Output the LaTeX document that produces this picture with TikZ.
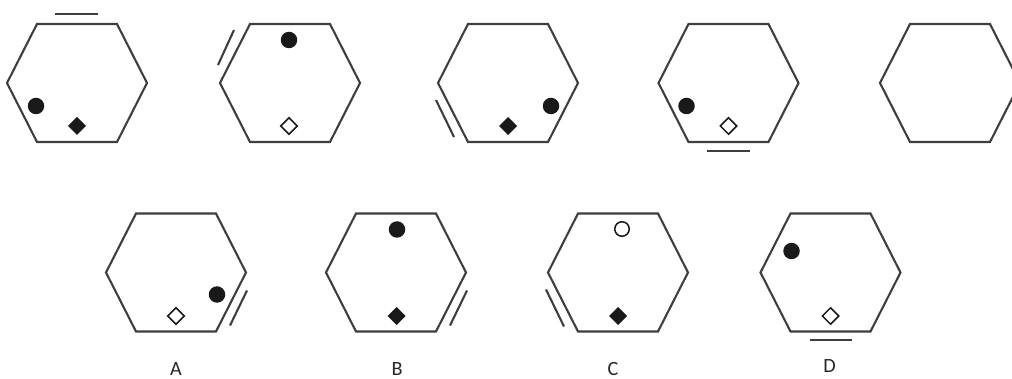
\documentclass[tikz,border=0pt]{standalone}
\usepackage{fontspec}
\setmainfont{Carlito}
\usepackage{tikz}
\usetikzlibrary{calc}
\definecolor{edgegray}{RGB}{62,62,62}
\definecolor{markblack}{RGB}{25,25,25}
\tikzset{
  hexline/.style={draw=edgegray, line width=0.42mm, line join=miter},
  sideline/.style={draw=edgegray, line width=0.42mm},
  filledmark/.style={fill=markblack},
  openmark/.style={draw=markblack, line width=0.3mm, fill=white},
  optlbl/.style={font=\fontsize{11.5}{13}\selectfont, text=black!85, inner sep=0pt},
}
% small square turned by 45 degrees
\newcommand{\diamondat}[3]{\path[#2] ($(#1)+(0,-#3)$) -- ($(#1)+(#3,0)$) -- ($(#1)+(0,#3)$) -- ($(#1)+(-#3,0)$) -- cycle;}

\begin{document}
\begin{tikzpicture}[x=0.2mm, y=-0.2mm]
  \useasboundingbox (0,0) rectangle (1012,379);
  % cell centres
  \coordinate (h1) at (77,83);
  \coordinate (h2) at (290,83);
  \coordinate (h3) at (508,83);
  \coordinate (h4) at (728.5,83);
  \coordinate (h5) at (950,83);
  \coordinate (a) at (176,272.5);
  \coordinate (b) at (396,272.5);
  \coordinate (c) at (618,272.5);
  \coordinate (d) at (830.5,272.5);
  \foreach \c in {h1,h2,h3,h4,h5,a,b,c,d}
    \draw[hexline] ($(\c)+(-70,0)$) -- ($(\c)+(-40,-59)$) -- ($(\c)+(40,-59)$)
      -- ($(\c)+(70,0)$) -- ($(\c)+(40,59)$) -- ($(\c)+(-40,59)$) -- cycle;
  % extra strokes beside one side
  \draw[sideline] ($(h1)+(-22,-69)$) -- ($(h1)+(21,-69)$);
  \draw[sideline] ($(h2)+(-56,-53)$) -- ($(h2)+(-72,-18)$);
  \draw[sideline] ($(h3)+(-72,17)$) -- ($(h3)+(-54,54)$);
  \draw[sideline] ($(h4)+(-21.5,68)$) -- ($(h4)+(21.5,68)$);
  \draw[sideline] ($(a)+(71,18)$) -- ($(a)+(54,53)$);
  \draw[sideline] ($(b)+(71,18)$) -- ($(b)+(54,53)$);
  \draw[sideline] ($(c)+(-72,17)$) -- ($(c)+(-54,54)$);
  \draw[sideline] ($(d)+(-21,67.5)$) -- ($(d)+(21,67.5)$);
  % dots
  \fill[filledmark] ($(h1)+(-41,23)$) circle (1.65mm);
  \fill[filledmark] ($(h2)+(-1,-43)$) circle (1.65mm);
  \fill[filledmark] ($(h3)+(43,23)$) circle (1.65mm);
  \fill[filledmark] ($(h4)+(-42,23)$) circle (1.65mm);
  \fill[filledmark] ($(a)+(41,22)$) circle (1.65mm);
  \fill[filledmark] ($(b)+(1,-43)$) circle (1.65mm);
  \draw[openmark] ($(c)+(4,-43.5)$) circle (1.45mm);
  \fill[filledmark] ($(d)+(-39,-21.5)$) circle (1.65mm);
  % diamonds
  \diamondat{$(h1)+(0,43)$}{filledmark}{9}
  \diamondat{$(h2)+(-1,43)$}{openmark}{8.2}
  \diamondat{$(h3)+(0,43)$}{filledmark}{9}
  \diamondat{$(h4)+(0,43)$}{openmark}{8.2}
  \diamondat{$(a)+(0,43.5)$}{openmark}{8.2}
  \diamondat{$(b)+(0.5,43.5)$}{filledmark}{9}
  \diamondat{$(c)+(0,43.5)$}{filledmark}{9}
  \diamondat{$(d)+(0,43.5)$}{openmark}{8.2}
  % option letters
  \node[optlbl] (labA) at ($(a)+(0,96.5)$) {A};
  \node[optlbl] (labB) at ($(b)+(1,96.5)$) {B};
  \node[optlbl] (labC) at ($(c)+(-5,96.5)$) {C};
  \node[optlbl] (labD) at ($(d)+(-1,93.5)$) {D};
\end{tikzpicture}
\end{document}
